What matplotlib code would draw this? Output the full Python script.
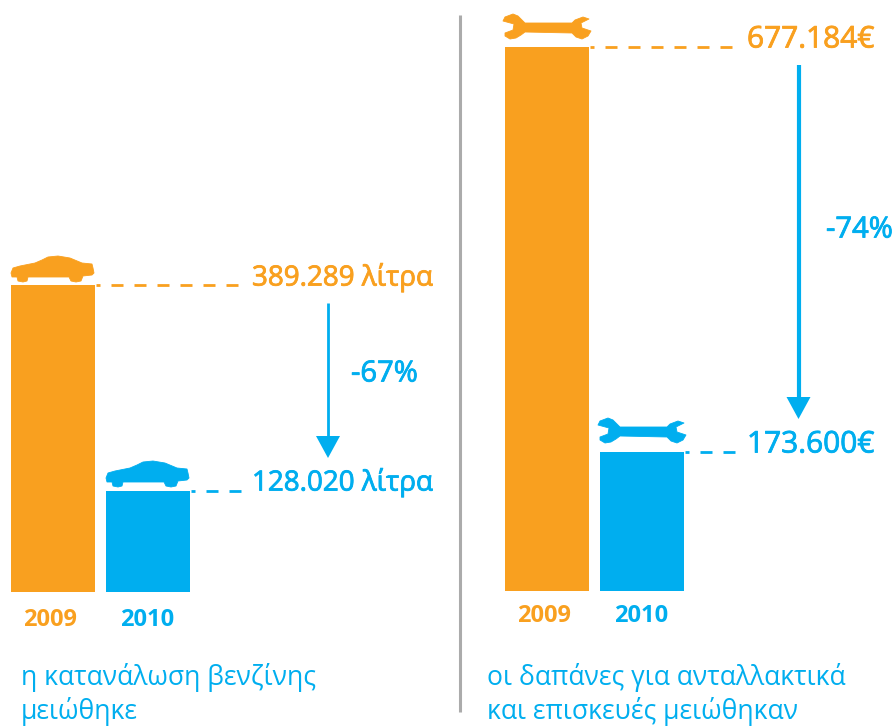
import matplotlib
matplotlib.use("Agg")
import matplotlib.pyplot as plt
import matplotlib.patheffects as pe
from matplotlib.patches import Polygon

# values
years = ["2009", "2010"]
fuel_values = [389289, 128020]
fuel_labels = ["389.289 λίτρα", "128.020 λίτρα"]
fuel_change = "-67%"
fuel_caption = ["η κατανάλωση βενζίνης", "μειώθηκε"]
cost_values = [677184, 173600]
cost_labels = ["677.184€", "173.600€"]
cost_change = "-74%"
cost_caption = ["οι δαπάνες για ανταλλακτικά", "και επισκευές μειώθηκαν"]

ORANGE = "#F9A01F"
BLUE = "#00AEEF"
colors = [ORANGE, BLUE]

# outlines of the icons (px, from bar left / bar top)
car_shape = [(0, -12), (2, -17), (9, -19), (24, -22), (31, -25), (37, -28), (47, -29), (59, -27),
             (71, -22), (81, -21), (82, -17), (83, -12), (81, -10), (72, -9), (70, -4), (65, -3),
             (60, -4), (58, -8), (17, -8), (16, -4), (12, -3), (7, -4), (6, -8), (1, -8)]
wrench_shape = [(-2, -26), (0, -30), (8, -33), (13, -31), (17, -27), (20, -24), (67, -24),
                (70, -27), (78, -30), (84, -28), (76, -24), (77, -19), (86, -16), (83, -11),
                (77, -8), (71, -10), (67, -14), (20, -15), (16, -12), (11, -9), (5, -8),
                (0, -11), (0, -14), (8, -17), (9, -23)]

plt.rcParams["font.family"] = ["Open Sans", "DejaVu Sans"]
plt.rcParams["lines.scale_dashes"] = False

W, H = 894, 727
fig = plt.figure(figsize=(W / 100, H / 100), dpi=100)

# a little stroke round the text, the original type is heavier than Open Sans regular
heavy = [pe.withStroke(linewidth=0.6, foreground=BLUE)]
heavy_orange = [pe.withStroke(linewidth=0.6, foreground=ORANGE)]
strokes = [heavy_orange, heavy]


def value_axes(baseline, top_px, top_value):
    # full figure axes: x in pixels, y in data units with 0 on the baseline
    ax = fig.add_axes([0, 0, 1, 1], facecolor="none")
    per_px = top_value / (baseline - top_px)
    ax.set_xlim(0, W)
    ax.set_ylim((baseline - H) * per_px, baseline * per_px)
    ax.axis("off")
    return ax


ax_fuel = value_axes(592, 285, fuel_values[0])
ax_cost = value_axes(591, 47, cost_values[0])

# overlay in pixel coordinates for texts, icons and arrows
ov = fig.add_axes([0, 0, 1, 1], facecolor="none")
ov.set_xlim(0, W)
ov.set_ylim(H, 0)
ov.axis("off")


def panel(ax, values, labels, shape, lefts, dash_end, label_x, label_ys, year_ys, icon_tops, size):
    for i in range(2):
        ax.bar(lefts[i], values[i], width=84, align="edge", color=colors[i], linewidth=0)
        ax.plot([lefts[i] + 85, dash_end], [values[i], values[i]], color=colors[i], lw=2,
                linestyle=(5.76, (8.64, 7.92)))
        ov.text(label_x, label_ys[i], labels[i], color=colors[i], fontsize=size, va="center",
                path_effects=strokes[i])
        ov.text(lefts[i] + 39 + 2 * i, year_ys[i], years[i], color=colors[i], fontsize=17,
                fontweight="bold", ha="center", va="center")
        x0, y0 = lefts[i], icon_tops[i]
        moved = [(x0 + p[0], y0 + p[1]) for p in shape]
        ov.add_patch(Polygon(moved, facecolor=colors[i], edgecolor=colors[i], lw=0.6,
                             joinstyle="round"))


def arrow(x, y0, y1, lw):
    ov.plot([x, x], [y0, y1 - 20], color=BLUE, lw=lw, solid_capstyle="butt")
    ov.add_patch(Polygon([(x - 12, y1 - 22), (x + 12, y1 - 22), (x, y1)], facecolor=BLUE,
                         edgecolor="none"))


panel(ax_fuel, fuel_values, fuel_labels, car_shape, [11, 106], 246, 252, [278, 483],
      [620, 620], [285, 490], 20)
panel(ax_cost, cost_values, cost_labels, wrench_shape, [505, 600], 741, 747, [40, 445],
      [616, 616], [47, 451], 21.5)

arrow(328, 303, 458, 2)
arrow(798.5, 65, 419, 3)
ov.text(351, 374, fuel_change, color=BLUE, fontsize=21, va="center", path_effects=heavy)
ov.text(826, 230, cost_change, color=BLUE, fontsize=21, va="center", path_effects=heavy)

# separator
ov.plot([460, 460], [15, 712], color="#ABABAB", lw=2.2, solid_capstyle="butt")

# captions
for i in range(2):
    ov.text(21, 678 + 34 * i, fuel_caption[i], color=BLUE, fontsize=19.1, va="center")
    ov.text(487, 678 + 34 * i, cost_caption[i], color=BLUE, fontsize=19.1, va="center")

fig.savefig("out.png", dpi=100)
